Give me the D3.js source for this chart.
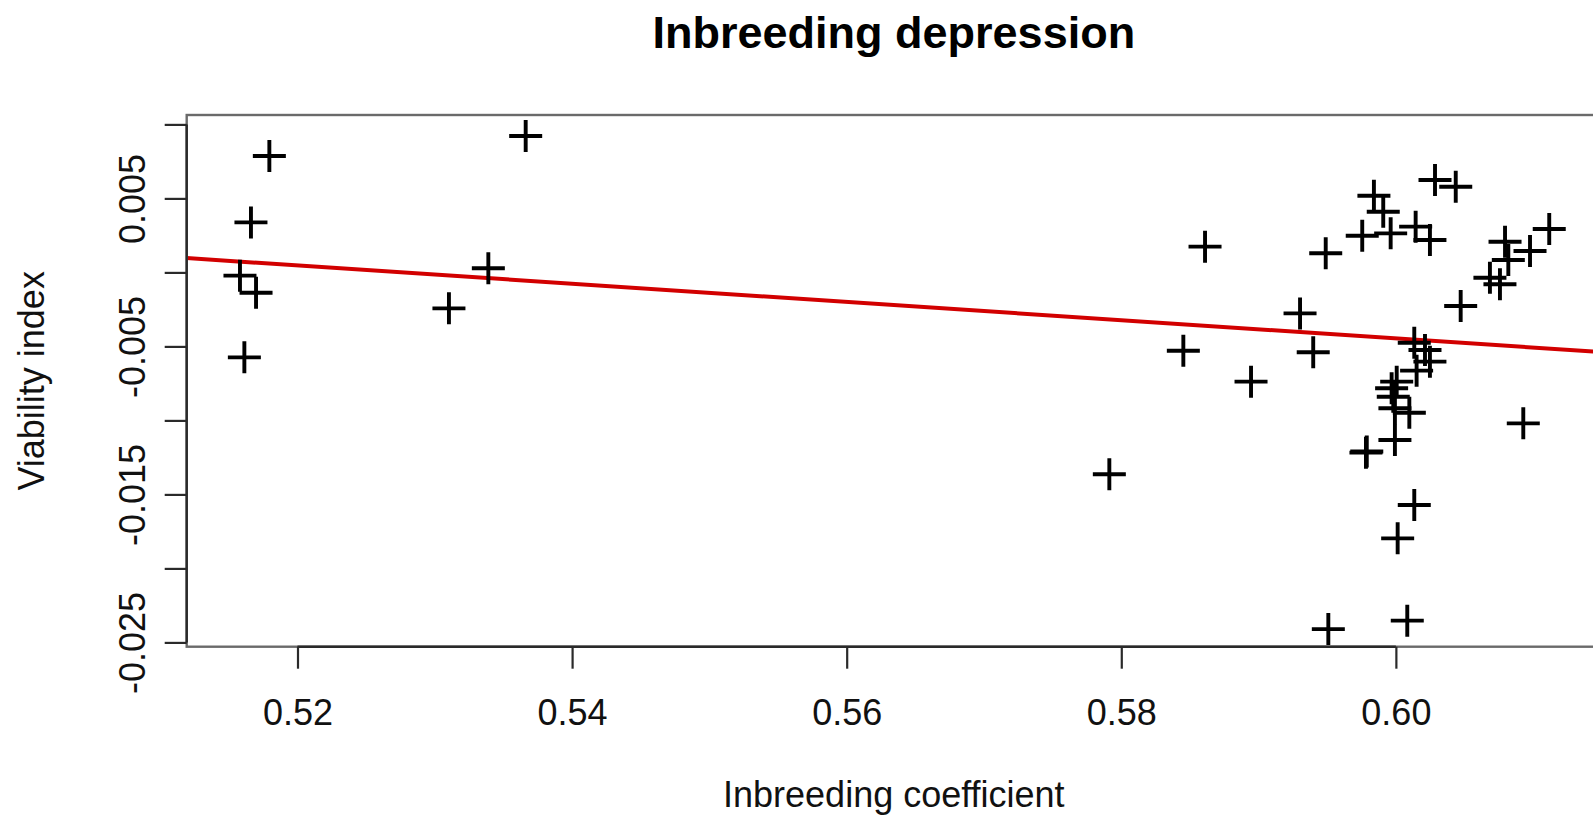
<!DOCTYPE html>
<html>
<head>
<meta charset="utf-8">
<script src="https://cdn.jsdelivr.net/npm/d3@7"></script>
<style>
  body { margin: 0; background: #fff; }
  svg { display: block; font-family: "Liberation Sans", Arial, Helvetica, sans-serif; }
</style>
</head>
<body>
<div id="chart"></div>
<script>
var width = 1593,
    height = 816,
    margin = {top: 115, right: -8, bottom: 169.3, left: 186.7},
    plotW = width - margin.left - margin.right,
    plotH = height - margin.top - margin.bottom;

// inbreeding coefficient (x) and viability index (y)
var inbreeding = [
  0.51795, 0.51661, 0.51581, 0.51698, 0.51613, 0.53103, 0.53390, 0.53662,
  0.57913, 0.58610, 0.58452, 0.58945, 0.59302, 0.59398, 0.59489, 0.59755,
  0.59840, 0.59908, 0.59962, 0.60144, 0.60248, 0.60285, 0.60436, 0.60472,
  0.60795, 0.60977, 0.61117, 0.60819, 0.60685, 0.60758, 0.60928, 0.60134,
  0.60212, 0.60151, 0.60248, 0.60006, 0.59969, 0.59981, 0.60098, 0.59993,
  0.59993, 0.59782, 0.59788, 0.60134, 0.60013, 0.60083, 0.59508
];
var viability = [
  0.00786, 0.00338, -0.00022, -0.00137, -0.00574, -0.00243, 0.00028, 0.00922,
  -0.01364, 0.00174, -0.00529, -0.00738, -0.00277, -0.00540, 0.00129, 0.00248,
  0.00518, 0.00410, 0.00264, 0.00309, 0.00219, 0.00624, 0.00579, -0.00227,
  0.00207, 0.00145, 0.00293, 0.00084, -0.00036, -0.00080, -0.01020, -0.00475,
  -0.00524, -0.00664, -0.00603, -0.00738, -0.00783, -0.00840, -0.00948, -0.00918,
  -0.01132, -0.01218, -0.01210, -0.01572, -0.01797, -0.02353, -0.02410
];

// linear fit drawn across the plot
var fitIntercept = 0.0325,
    fitSlope = -0.0616;

var xTicks = [0.52, 0.54, 0.56, 0.58, 0.60];
var yTicks = [-0.025, -0.02, -0.015, -0.01, -0.005, 0, 0.005, 0.01];
var yLabelled = [-0.025, -0.015, -0.005, 0.005];

var xLimits = [0.51193, 0.61494],
    yLimits = [-0.02529, 0.010635];

var locale = d3.formatLocale({decimal: ".", thousands: ",", grouping: [3], currency: ["", ""], minus: "-"});

var x = d3.scaleLinear()
        .domain(xLimits)
        .range([0, plotW]);

var y = d3.scaleLinear()
        .domain(yLimits)
        .range([plotH, 0]);

var xAxis = d3.axisBottom(x)
        .tickValues(xTicks)
        .tickSize(22)
        .tickFormat(locale.format(".2f"));

var yAxis = d3.axisLeft(y)
        .tickValues(yTicks)
        .tickSize(22)
        .tickFormat(function(d) {
            return yLabelled.some(function(v) { return Math.abs(v - d) < 1e-9; }) ? locale.format(".3f")(d) : "";
        });

var svg = d3.select("#chart").append("svg")
        .attr("width", width)
        .attr("height", height);

svg.append("rect")
        .attr("width", width)
        .attr("height", height)
        .attr("fill", "#fff");

var g = svg.append("g")
        .attr("transform", "translate(" + margin.left + "," + margin.top + ")");

g.append("clipPath")
        .attr("id", "plot-clip")
        .append("rect")
        .attr("width", plotW)
        .attr("height", plotH);

// fitted line
var lineX = xLimits;
g.append("line")
        .attr("clip-path", "url(#plot-clip)")
        .attr("x1", x(lineX[0]))
        .attr("y1", y(fitIntercept + fitSlope * lineX[0]))
        .attr("x2", x(lineX[1]))
        .attr("y2", y(fitIntercept + fitSlope * lineX[1]))
        .attr("stroke", "#d20000")
        .attr("stroke-width", 4);

// points, pch = 3
var data = inbreeding.map(function(d, i) { return {x: d, y: viability[i]}; });
g.append("g")
        .attr("class", "points")
        .selectAll("path")
        .data(data)
        .enter().append("path")
        .attr("transform", function(d) { return "translate(" + x(d.x) + "," + y(d.y) + ")"; })
        .attr("d", "M-16.5,0H16.5M0,-16V16")
        .attr("stroke", "#000")
        .attr("stroke-width", 3.9)
        .attr("fill", "none");

// box
g.append("rect")
        .attr("width", plotW)
        .attr("height", plotH)
        .attr("fill", "none")
        .attr("stroke", "#6a6a6a")
        .attr("stroke-width", 2.4);

// axes
var gx = g.append("g")
        .attr("class", "x axis")
        .attr("transform", "translate(0," + plotH + ")")
        .call(xAxis);
gx.select(".domain").remove();
gx.append("line")
        .attr("x1", x(xTicks[0]))
        .attr("x2", x(xTicks[xTicks.length - 1]))
        .attr("stroke", "#2a2a2a")
        .attr("stroke-width", 2.4);
gx.selectAll(".tick line").attr("stroke", "#2a2a2a").attr("stroke-width", 2.2);
gx.selectAll(".tick text")
        .attr("y", 78.3)
        .attr("dy", 0)
        .attr("fill", "#111")
        .style("font-size", "36px");

var gy = g.append("g")
        .attr("class", "y axis")
        .call(yAxis);
gy.select(".domain").remove();
gy.append("line")
        .attr("y1", y(yTicks[0]))
        .attr("y2", y(yTicks[yTicks.length - 1]))
        .attr("stroke", "#2a2a2a")
        .attr("stroke-width", 2.4);
gy.selectAll(".tick line").attr("stroke", "#2a2a2a").attr("stroke-width", 2.2);
gy.selectAll(".tick text")
        .attr("transform", "rotate(-90)")
        .attr("x", 0)
        .attr("y", -41.7)
        .attr("dy", 0)
        .attr("text-anchor", "middle")
        .attr("fill", "#111")
        .style("font-size", "36px");

// titles
svg.append("text")
        .attr("x", margin.left + plotW / 2)
        .attr("y", 48)
        .attr("text-anchor", "middle")
        .style("font-size", "45px")
        .style("font-weight", "bold")
        .attr("fill", "#000")
        .text("Inbreeding depression");

svg.append("text")
        .attr("x", margin.left + plotW / 2)
        .attr("y", 806.7)
        .attr("text-anchor", "middle")
        .style("font-size", "36px")
        .attr("fill", "#111")
        .text("Inbreeding coefficient");

svg.append("text")
        .attr("transform", "translate(44," + (margin.top + plotH / 2) + ") rotate(-90)")
        .attr("text-anchor", "middle")
        .style("font-size", "36px")
        .attr("fill", "#111")
        .text("Viability index");
</script>
</body>
</html>
